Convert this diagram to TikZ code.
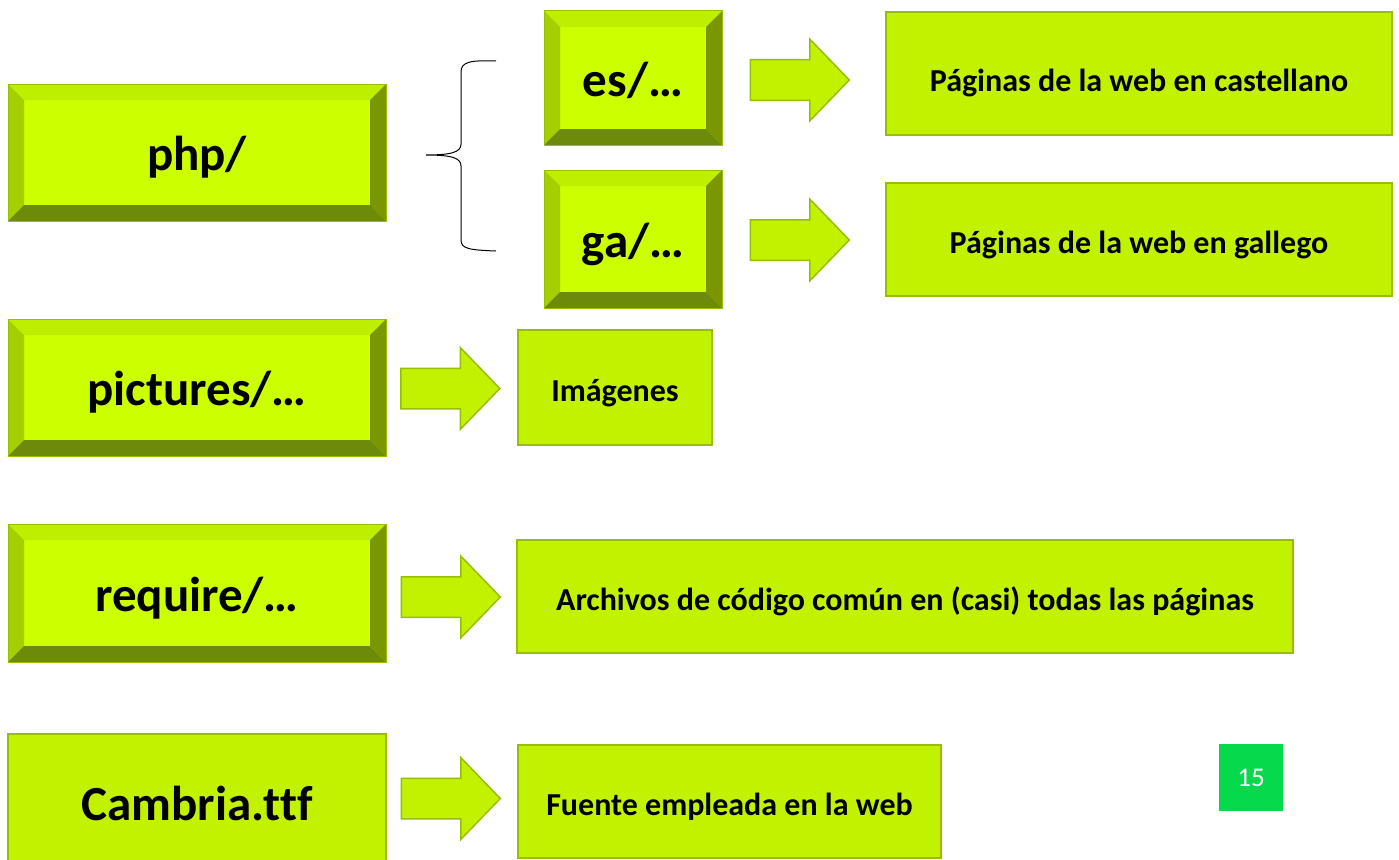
\documentclass[tikz,border=0pt]{standalone}
\usepackage{fontspec}
\setmainfont{Carlito}
\usetikzlibrary{shapes.arrows}

\definecolor{face}{HTML}{CCFF00}
\definecolor{bevtop}{HTML}{BEEF00}
\definecolor{bevleft}{HTML}{A5CF00}
\definecolor{bevright}{HTML}{7A9600}
\definecolor{bevbottom}{HTML}{6E8A0A}
\definecolor{flatfill}{HTML}{C2F200}
\definecolor{flatline}{HTML}{98BE00}
\definecolor{pagegreen}{HTML}{06DA4C}

\tikzset{
  button/.style={draw=flatline, line width=1pt, fill=face, inner sep=0pt,
    font=\fontsize{49}{56}\selectfont\bfseries, text height=38pt, text depth=2pt,
    path picture={
      \coordinate (sw) at (path picture bounding box.south west);
      \coordinate (ne) at (path picture bounding box.north east);
      \coordinate (nw) at (path picture bounding box.north west);
      \coordinate (se) at (path picture bounding box.south east);
      \fill[bevtop] (nw) -- (ne) -- ([shift={(-16pt,-16pt)}]ne) -- ([shift={(16pt,-16pt)}]nw) -- cycle;
      \fill[bevleft] (nw) -- ([shift={(16pt,-16pt)}]nw) -- ([shift={(16pt,16pt)}]sw) -- (sw) -- cycle;
      \fill[bevright] (ne) -- (se) -- ([shift={(-16pt,16pt)}]se) -- ([shift={(-16pt,-16pt)}]ne) -- cycle;
      \fill[bevbottom] (sw) -- (se) -- ([shift={(-16pt,16pt)}]se) -- ([shift={(16pt,16pt)}]sw) -- cycle;
    }},
  flatbox/.style={draw=flatline, line width=2pt, fill=flatfill, inner sep=0pt,
    font=\fontsize{32}{38}\selectfont\bfseries},
  desc/.style={flatbox, text height=29pt, text depth=2pt},
  blockarrow/.style={single arrow, draw=flatline, line width=1.5pt, fill=flatfill,
    inner xsep=0pt, inner ysep=19.5pt, minimum height=99pt,
    single arrow head extend=20.5pt, single arrow tip angle=92}
}

\begin{document}
\begin{tikzpicture}[x=1pt, y=-1pt]
  \useasboundingbox (0,0) rectangle (1399,859);

  % folders
  \node[button, minimum width=378pt, minimum height=137pt] (php) at (197,152.5) {php/};
  \node[button, minimum width=178pt, minimum height=134pt] (es) at (633,78) {es/…};
  \node[button, minimum width=178pt, minimum height=138pt] (ga) at (633,239) {ga/…};
  \node[button, minimum width=378pt, minimum height=137pt] (pictures) at (197,387.5) {pictures/…};
  \node[button, minimum width=378pt, minimum height=138pt] (require) at (197,593) {require/…};
  \node[flatbox, minimum width=378pt, minimum height=138pt,
        font=\fontsize{49}{56}\selectfont\bfseries] (cambria) at (197,803) {Cambria.t\kern0pt t\kern0pt f};

  % descriptions
  \node[desc, minimum width=506pt, minimum height=123pt, text height=41pt, text depth=4pt] (castellano) at (1139,73.5) {Páginas de la web en castellano};
  \node[desc, minimum width=506pt, minimum height=113pt] (gallego) at (1139,239.5) {Páginas de la web en gallego};
  \node[desc, minimum width=194pt, minimum height=115pt] (imagenes) at (615,387.5) {Imágenes};
  \node[desc, minimum width=776pt, minimum height=113pt] (archivos) at (905,596.5) {Archivos de código común en (casi) todas las páginas};
  \node[desc, minimum width=423pt, minimum height=113pt] (fuente) at (729.5,801.5) {Fuente empleada en la web};

  % arrows
  \node[blockarrow] (arrEs) at (790,80) {};
  \node[blockarrow] (arrGa) at (790,240) {};
  \node[blockarrow] (arrPictures) at (440.5,388.5) {};
  \node[blockarrow] (arrRequire) at (441,597) {};
  \node[blockarrow] (arrCambria) at (441,798.5) {};

  % brace
  \coordinate (braceTop) at (496,61);
  \coordinate (braceTip) at (426,155);
  \coordinate (braceBot) at (496,251);
  \draw[line width=1pt] (braceTop) .. controls (470,60) and (461,62) .. (461,72)
    -- (461,144) .. controls (461,152) and (452,155) .. (braceTip)
    .. controls (452,155) and (461,158) .. (461,166)
    -- (461,240) .. controls (461,249) and (470,250) .. (braceBot);

  % page number
  \node[fill=pagegreen, text=white, minimum width=64pt, minimum height=67pt,
        font=\fontsize{27}{32}\selectfont] (pagenum) at (1251,777.5) {15};
\end{tikzpicture}
\end{document}
